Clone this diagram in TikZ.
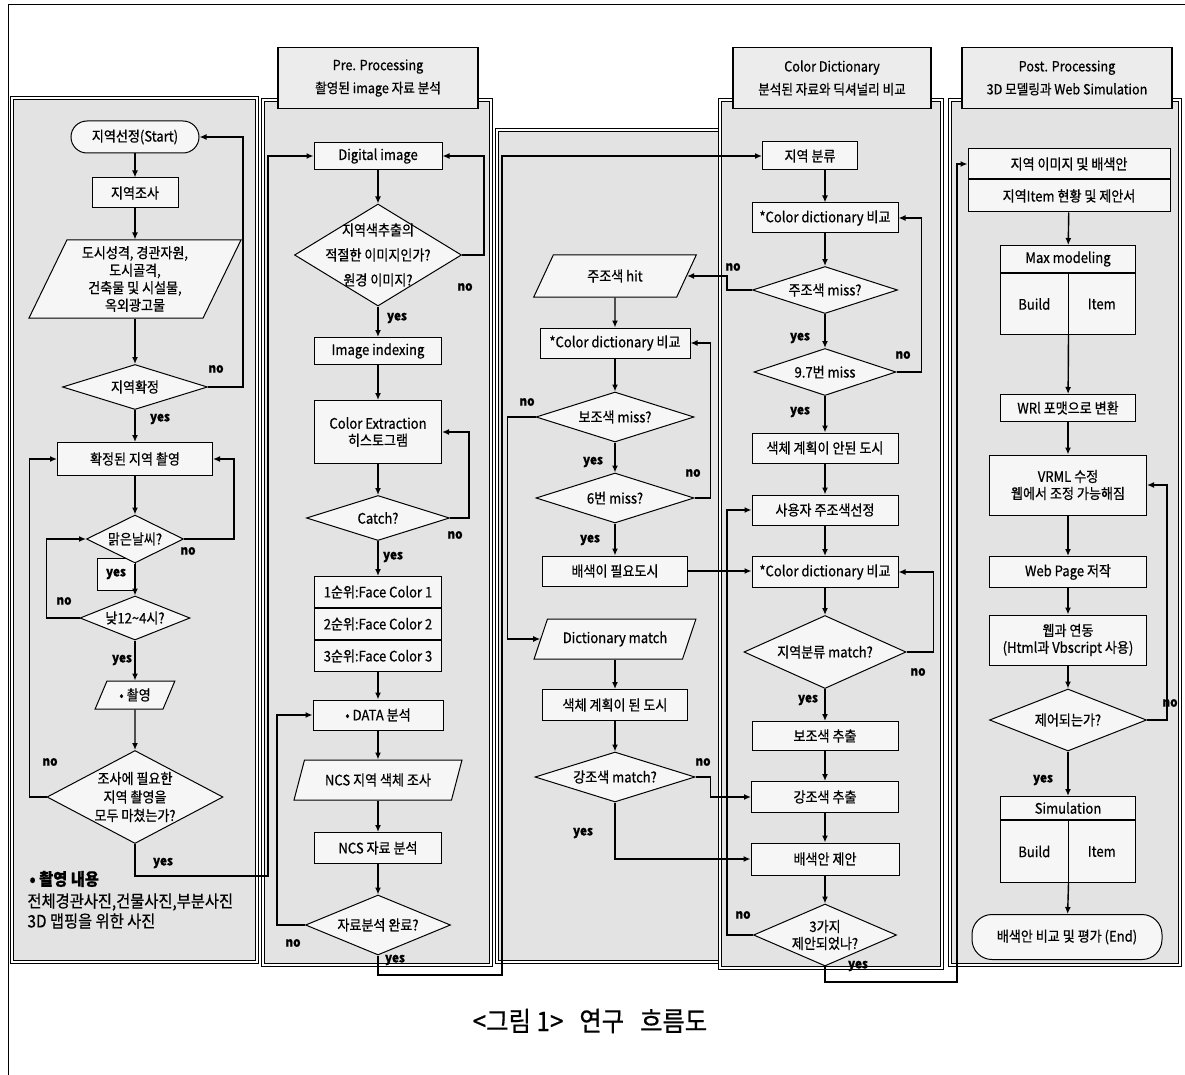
\documentclass[tikz,border=0pt]{standalone}
\usepackage{fontspec}
\setmainfont{Noto Sans CJK KR}[FakeStretch=0.9, FakeBold=0.6]
\usetikzlibrary{shapes.geometric, arrows.meta, positioning, calc}
\newcommand\boxfont{\fontsize{14.5}{17}\selectfont}
\newcommand\ynfont{\fontsize{13}{15}\selectfont\bfseries}
\tikzset{
    panel/.style={draw, double, double distance=1.6pt, line width=0.9pt, fill=gray!22},
    headbox/.style={rectangle, draw, line width=1.2pt, fill=gray!15,
        minimum width=#1pt, minimum height=61pt,
        font=\fontsize{14}{23}\selectfont, align=center},
    box/.style={rectangle, draw, line width=1pt, fill=gray!7,
        font=\boxfont, align=center, inner sep=1pt},
    cell/.style 2 args={box, minimum width=#1pt, minimum height=#2pt},
    term/.style 2 args={cell={#1}{#2}, rounded corners=16pt},
    decision/.style 2 args={diamond, draw, line width=1pt, fill=gray!7,
        minimum width=#1pt, minimum height=#2pt, inner sep=0pt},
    qtext/.style={font=\boxfont, align=center},
    io/.style 2 args={trapezium, trapezium left angle=#1, trapezium right angle=#2,
        trapezium stretches=true, draw, line width=1pt, fill=gray!7,
        font=\boxfont, align=center, inner sep=1pt},
    arrow/.style={-{Latex[length=7pt,width=6pt]}, line width=1.4pt},
    yn/.style={font=\ynfont, inner sep=1pt}
}
\begin{document}
\begin{tikzpicture}[x=1pt, y=-1pt]
    \useasboundingbox (0,0) rectangle (1185,1075);
    \draw[line width=1pt] (1185,5) -- (8,5) -- (8,1075);

    % Column panels
    \draw[panel] (12,98) rectangle (257,962);
    \draw[panel] (263,100) rectangle (491,965);
    \draw[panel] (497,130) rectangle (730,962);
    \draw[panel] (720,100) rectangle (942,968);
    \draw[panel] (950,100) rectangle (1180,965);

    % Column headers
    \node[headbox=200] (prehead) at (378,78) {Pre. Processing\\촬영된 image 자료 분석};
    \node[headbox=198] (dicthead) at (832,78) {Color Dictionary\\분석된 자료와 딕셔널리 비교};
    \node[headbox=210] (posthead) at (1067,78) {Post. Processing\\3D 모델링과 Web Simulation};

    % Field survey
    \node[term={128}{32}] (start) at (135,137) {지역선정(Start)};
    \node[cell={86}{30}] (survey) at (135,193) {지역조사};
    \node[io={66}{114}, minimum width=212pt, minimum height=78pt,
        font=\fontsize{14.5}{17.5}\selectfont] (city) at (135,279)
        {도시성격, 경관자원,\\도시골격,\\건축물 및 시설물,\\옥외광고물};
    \node[decision={145}{45}, label={[qtext]center:지역확정}] (confirm) at (135,387) {};
    \node[cell={155}{33}] (shoot) at (135,459) {확정된 지역 촬영};
    \node[cell={38}{32}, font=\ynfont] (yesbox) at (116,574) {yes};
    \node[decision={97}{48}, label={[qtext]center:맑은날씨?}] (weather) at (135,539) {};
    \node[decision={110}{44}, label={[qtext]center:낮12\textasciitilde 4시?}] (noon) at (135,618) {};
    \node[io={65}{115}, minimum width=80pt, minimum height=28pt] (photo) at (135,695) {• 촬영};
    \node[decision={176}{93}, label={[qtext, font=\fontsize{14.5}{18.5}\selectfont]center:조사에 필요한\\지역 촬영을\\모두 마쳤는가?}] (done) at (135,797) {};
    \node[font=\fontsize{17}{19}\selectfont\bfseries, anchor=west] (notehead) at (26,879) {• 촬영 내용};
    \node[font=\fontsize{17}{20}\selectfont, anchor=west, align=left] (notebody) at (24,911)
        {전체경관사진,건물사진,부분사진\\3D 맵핑을 위한 사진};

    % Pre. Processing
    \node[cell={128}{27}] (digital) at (378,156) {Digital image};
    \node[decision={167}{102}, label={[qtext, font=\fontsize{14.5}{25}\selectfont]center:지역색추출의\\적절한 이미지인가?\\원경 이미지?}] (fit) at (378,255) {};
    \node[cell={127}{27}] (index) at (378,351) {Image indexing};
    \node[cell={127}{63}] (extract) at (378,432) {Color Extraction\\히스토그램};
    \node[decision={143}{45}, label={[qtext]center:Catch?}] (catch) at (378,518) {};
    \node[cell={127}{31}] (rank1) at (378,592) {1순위:Face Color 1};
    \node[cell={127}{31}, below=0pt of rank1] (rank2) {2순위:Face Color 2};
    \node[cell={127}{31}, below=0pt of rank2] (rank3) {3순위:Face Color 3};
    \node[cell={130}{30}] (data) at (378,715) {• DATA 분석};
    \node[io={63}{117}, minimum width=168pt, minimum height=40pt] (ncs) at (378,780) {NCS 지역 색체 조사};
    \node[cell={127}{31}] (ncsa) at (378,848) {NCS 자료 분석};
    \node[decision={145}{60}, label={[qtext]center:자료분석 완료?}] (finish) at (378,925) {};

    % Colour matching
    \node[io={59}{121}, minimum width=163pt, minimum height=42pt] (hit) at (615,276) {주조색 hit};
    \node[cell={150}{30}] (cmp3) at (615,343) {*Color dictionary 비교};
    \node[decision={158}{50}, label={[qtext]center:보조색 miss?}] (submiss) at (615,417) {};
    \node[decision={158}{50}, label={[qtext]center:6번 miss?}] (six) at (615,498) {};
    \node[cell={145}{30}] (need) at (615,571) {배색이 필요도시};
    \node[io={58}{122}, minimum width=162pt, minimum height=40pt] (dmatch) at (615,639) {Dictionary match};
    \node[cell={145}{31}] (planned) at (615,705) {색체 계획이 된 도시};
    \node[decision={160}{50}, label={[qtext]center:강조색 match?}] (emph) at (615,777) {};

    % Color Dictionary
    \node[cell={95}{28}] (region) at (810,156) {지역 분류};
    \node[cell={146}{30}] (cmp1) at (825,218) {*Color dictionary 비교};
    \node[decision={145}{47}, label={[qtext]center:주조색 miss?}] (main) at (825,290) {};
    \node[decision={142}{47}, label={[qtext]center:9.7번 miss}] (d97) at (825,372) {};
    \node[cell={146}{30}] (nonplan) at (825,448) {색체 계획이 안된 도시};
    \node[cell={146}{30}] (user) at (825,510) {사용자 주조색선정};
    \node[cell={146}{31}] (cmp2) at (825,572) {*Color dictionary 비교};
    \node[decision={162}{73}, label={[qtext]center:지역분류 match?}] (areamatch) at (825,652) {};
    \node[cell={146}{29}] (sub) at (825,736) {보조색 추출};
    \node[cell={147}{31}] (accent) at (825,797) {강조색 추출};
    \node[cell={148}{32}] (propose) at (825,859) {배색안 제안};
    \node[decision={143}{62}, label={[qtext]center:3가지\\제안되었나?}] (three) at (825,935) {};

    % Post. Processing
    \node[cell={202}{30}] (img1) at (1069,164) {지역 이미지 및 배색안};
    \node[cell={202}{32}, below=0pt of img1] (img2) {지역Item 현황 및 제안서};
    \node[cell={135}{27}] (maxtop) at (1068,259) {Max modeling};
    \node[cell={67.5}{61}, anchor=north west] (maxbuild) at (maxtop.south west) {Build};
    \node[cell={67.5}{61}, anchor=north east] (maxitem) at (maxtop.south east) {Item};
    \node[cell={135}{27}] (wrl) at (1068,408) {WRl 포맷으로 변환};
    \node[cell={157}{60}] (vrml) at (1068,485) {VRML 수정\\웹에서 조정 가능해짐};
    \node[cell={157}{31}] (web) at (1068,572) {Web Page 저작};
    \node[cell={157}{50}] (link) at (1068,640) {웹과 연동\\(Html과 Vbscript 사용)};
    \node[decision={157}{62}, label={[qtext]center:제어되는가?}] (ctrl) at (1068,720) {};
    \node[cell={135}{23}] (simtop) at (1068,808) {Simulation};
    \node[cell={67.5}{62}, anchor=north west] (simbuild) at (simtop.south west) {Build};
    \node[cell={67.5}{62}, anchor=north east] (simitem) at (simtop.south east) {Item};
    \node[term={190}{45}, rounded corners=20pt] (fin) at (1067,937) {배색안 비교 및 평가 (End)};

    % yes / no labels
    \node[yn] (n1) at (216,369) {no};
    \node[yn] (y1) at (160,419) {yes};
    \node[yn] (n2) at (188,551) {no};
    \node[yn] (n3) at (64,601) {no};
    \node[yn] (y3) at (122,660) {yes};
    \node[yn] (n4) at (50,762) {no};
    \node[yn] (y4) at (163,863) {yes};
    \node[yn] (n5) at (465,287) {no};
    \node[yn] (y5) at (397,318) {yes};
    \node[yn] (n6) at (455,535) {no};
    \node[yn] (y6) at (393,557) {yes};
    \node[yn] (n7) at (293,943) {no};
    \node[yn] (y7) at (395,960) {yes};
    \node[yn] (n8) at (733,267) {no};
    \node[yn] (y8) at (800,338) {yes};
    \node[yn] (n9) at (903,355) {no};
    \node[yn] (y9) at (800,412) {yes};
    \node[yn] (n10) at (918,672) {no};
    \node[yn] (y10) at (808,700) {yes};
    \node[yn] (n11) at (743,915) {no};
    \node[yn] (y11) at (858,966) {yes};
    \node[yn] (n12) at (527,402) {no};
    \node[yn] (y12) at (593,462) {yes};
    \node[yn] (n13) at (693,473) {no};
    \node[yn] (y13) at (590,540) {yes};
    \node[yn] (n14) at (703,762) {no};
    \node[yn] (y14) at (583,833) {yes};
    \node[yn] (n15) at (1170,703) {no};
    \node[yn] (y15) at (1043,780) {yes};

    % Arrows - field survey
    \draw[arrow] (start) -- (survey);
    \draw[arrow] (survey) -- (city);
    \draw[arrow] (city) -- (confirm);
    \draw[arrow] (confirm.east) -- ++(35,0) |- (start.east);
    \draw[arrow] (confirm) -- (shoot);
    \draw[arrow] (shoot) -- (weather);
    \draw[arrow] (weather.east) -- ++(50,0) |- (shoot.east);
    \draw[arrow] (weather) -- (noon);
    \draw[arrow] (noon.west) -- ++(-33,0) |- (weather.west);
    \draw[arrow] (noon) -- (photo);
    \draw[arrow] (photo) -- (done);
    \draw[arrow] (done.west) -- ++(-17,0) |- (shoot.west);
    \coordinate (surveyend) at (268,876);
    \draw[arrow] (done.south) |- (surveyend) |- (digital.west);

    % Arrows - pre processing
    \draw[arrow] (digital) -- (fit);
    \draw[arrow] (fit.east) -- ++(22,0) |- (digital.east);
    \draw[arrow] (fit) -- (index);
    \draw[arrow] (index) -- (extract);
    \draw[arrow] (extract) -- (catch);
    \draw[arrow] (catch.east) -- ++(19,0) |- (extract.east);
    \draw[arrow] (catch) -- (rank1);
    \draw[arrow] (rank3) -- (data);
    \draw[arrow] (data) -- (ncs);
    \draw[arrow] (ncs) -- (ncsa);
    \draw[arrow] (ncsa) -- (finish);
    \draw[arrow] (finish.west) -- ++(-28,0) |- (data.west);
    \coordinate (preend) at (502,975);
    \draw[arrow] (finish.south) |- (preend) |- (region.west);

    % Arrows - colour matching
    \draw[arrow] (hit) -- (cmp3);
    \draw[arrow] (cmp3) -- (submiss);
    \draw[arrow] (submiss.west) -- ++(-28,0) |- (dmatch.west);
    \draw[arrow] (submiss) -- (six);
    \draw[arrow] (six.east) -- ++(16,0) |- (cmp3.east);
    \draw[arrow] (six) -- (need);
    \draw[arrow] (need.east) -- (need.east -| cmp2.west);
    \draw[arrow] (dmatch) -- (planned);
    \draw[arrow] (planned) -- (emph);
    \draw[arrow] (emph.east) -- ++(15,0) |- (accent.west);
    \draw[arrow] (emph.south) |- (propose.west);

    % Arrows - color dictionary
    \draw[arrow] (region.south -| cmp1.north) -- (cmp1.north);
    \draw[arrow] (cmp1) -- (main);
    \draw[arrow] (main.west) -- ++(-25,0) |- (hit.east);
    \draw[arrow] (main) -- (d97);
    \draw[arrow] (d97.east) -- ++(25,0) |- (cmp1.east);
    \draw[arrow] (d97) -- (nonplan);
    \draw[arrow] (nonplan) -- (user);
    \draw[arrow] (user) -- (cmp2);
    \draw[arrow] (cmp2) -- (areamatch);
    \draw[arrow] (areamatch.east) -- ++(27,0) |- (cmp2.east);
    \draw[arrow] (areamatch) -- (sub);
    \draw[arrow] (sub) -- (accent);
    \draw[arrow] (accent) -- (propose);
    \draw[arrow] (propose) -- (three);
    \draw[arrow] (three.west) -- ++(-26,0) |- (user.west);
    \coordinate (dictend) at (957,982);
    \draw[arrow] (three.south) |- (dictend) |- (img1.west);

    % Arrows - post processing
    \draw[arrow] (img2) -- (maxtop);
    \draw[arrow] (maxbuild.south east) -- (wrl);
    \draw[arrow] (wrl) -- (vrml);
    \draw[arrow] (vrml) -- (web);
    \draw[arrow] (web) -- (link);
    \draw[arrow] (link) -- (ctrl);
    \draw[arrow] (ctrl.east) -- ++(20,0) |- (vrml.east);
    \draw[arrow] (ctrl) -- (simtop);
    \draw[arrow] (simbuild.south east) -- (fin);

    % Caption
    \node[font=\fontsize{27}{30}\selectfont] (caption) at (590,1021) {<그림 1>\hspace{16pt}연구\hspace{16pt}흐름도};
\end{tikzpicture}
\end{document}
